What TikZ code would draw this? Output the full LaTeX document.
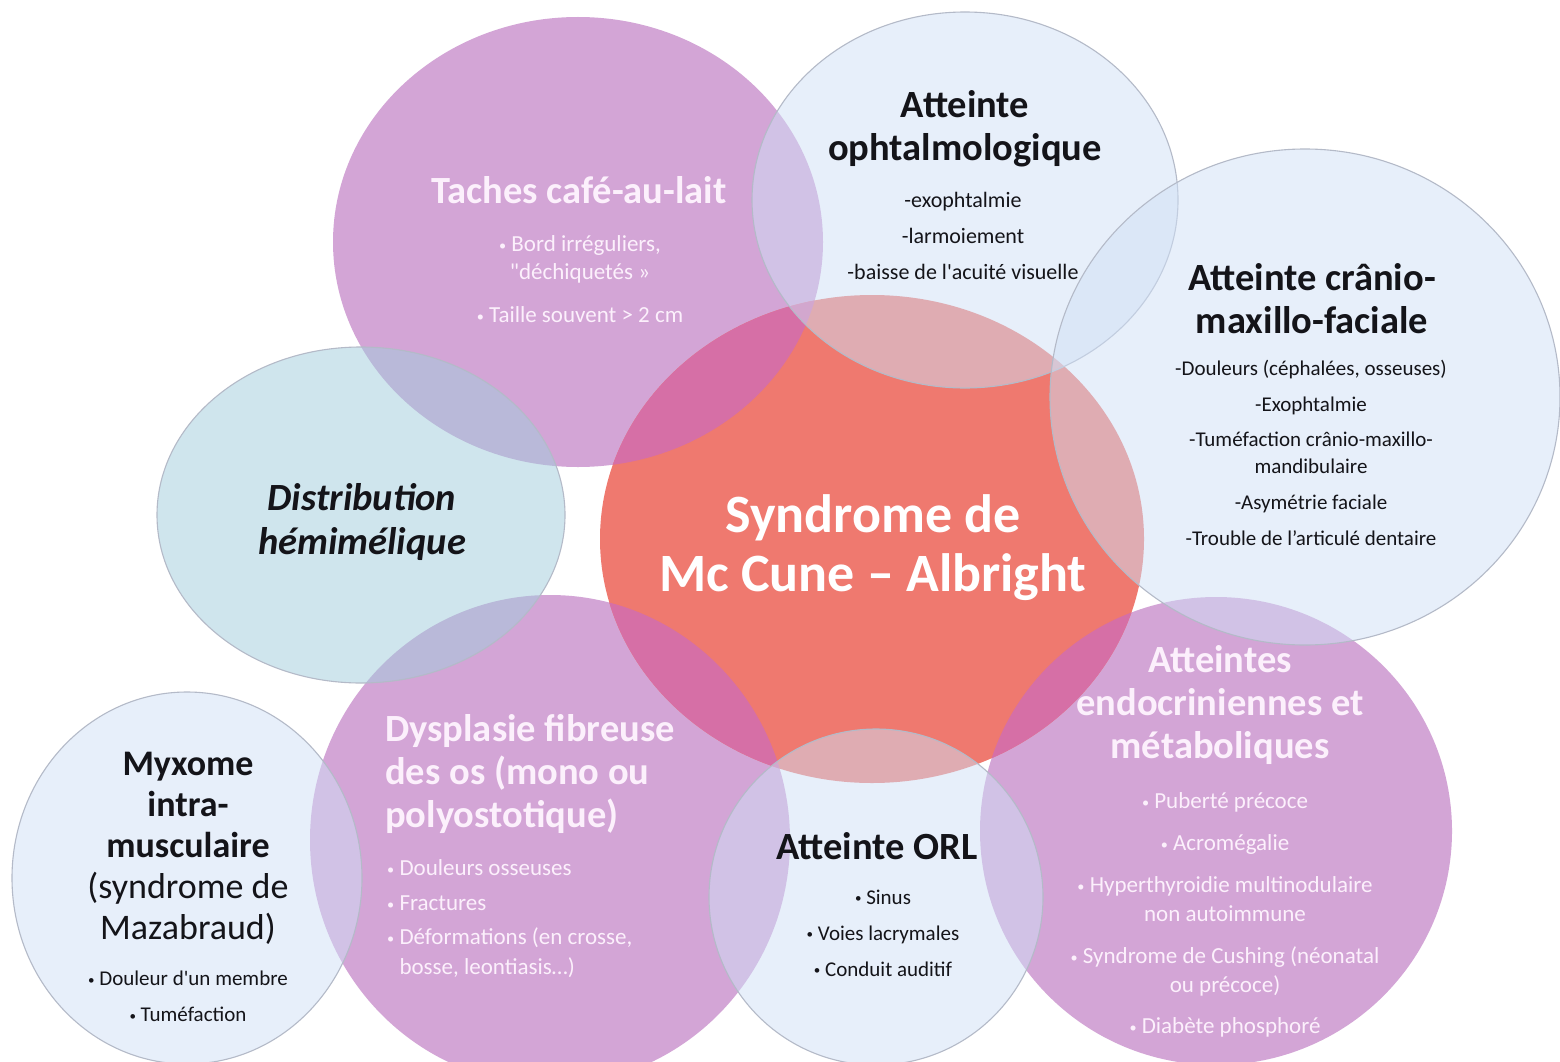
\documentclass[tikz,border=0pt]{standalone}
\usepackage{fontspec}
\setmainfont{Carlito}

\definecolor{mauve}{RGB}{211,165,214}
\definecolor{corail}{RGB}{239,121,111}
\definecolor{mauvecorail}{RGB}{214,111,166}
\definecolor{bleuclair}{RGB}{208,224,246}
\definecolor{bleuvert}{RGB}{160,205,220}
\definecolor{bordgris}{RGB}{180,186,200}
\definecolor{blanclait}{RGB}{252,240,252}
\definecolor{noirtexte}{RGB}{20,20,25}

\newcommand\puce{\raisebox{0.12ex}{\scalebox{0.62}{•}}}

\tikzset{
  cercle clair/.style={fill=#1, fill opacity=0.5, draw=bordgris, line width=1.1pt},
  titre/.style={font=\bfseries\fontsize{38.5}{43}\selectfont, align=center, inner sep=0pt, text=noirtexte},
  titre blanc/.style={titre, text=blanclait},
  liste/.style={font=\fontsize{22}{27}\selectfont, align=center, inner sep=0pt, text=noirtexte},
  liste blanche/.style={liste, text=blanclait},
}

\begin{document}
\begin{tikzpicture}[x=1pt,y=-1pt]
    \useasboundingbox[fill=white] (0,0) rectangle (1560,1062);

    % centres des cercles
    \coordinate (cTaches) at (578,242);
    \coordinate (cOphtalmo) at (965,200);
    \coordinate (cCranio) at (1305,397);
    \coordinate (cDistrib) at (361,515);
    \coordinate (cSyndrome) at (872,539);
    \coordinate (cDysplasie) at (550,840);
    \coordinate (cMyxome) at (187,878);
    \coordinate (cOrl) at (876,897);
    \coordinate (cEndocrine) at (1216,831);

    % cercles mauves
    \fill[mauve] (cTaches) ellipse [x radius=245pt, y radius=225pt];
    \fill[mauve] (cDysplasie) ellipse [x radius=240pt, y radius=245pt];
    \fill[mauve] (cEndocrine) ellipse [x radius=236pt, y radius=234pt];

    % cercle central
    \fill[corail] (cSyndrome) ellipse [x radius=272pt, y radius=244pt];
    \foreach \c/\rx/\ry in {cTaches/245/225, cDysplasie/240/245, cEndocrine/236/234} {
        \begin{scope}
            \clip (cSyndrome) ellipse [x radius=272pt, y radius=244pt];
            \fill[mauvecorail] (\c) ellipse [x radius=\rx pt, y radius=\ry pt];
        \end{scope}
    }

    % cercles clairs
    \path[cercle clair=bleuvert] (cDistrib) ellipse [x radius=204pt, y radius=168pt];
    \path[cercle clair=bleuclair] (cOphtalmo) ellipse [x radius=213pt, y radius=188pt];
    \path[cercle clair=bleuclair] (cCranio) ellipse [x radius=255pt, y radius=248pt];
    \path[cercle clair=bleuclair] (cMyxome) ellipse [x radius=175pt, y radius=186pt];
    \path[cercle clair=bleuclair] (cOrl) ellipse [x radius=167pt, y radius=168pt];

    % textes
    \node[titre blanc] (tTaches) at (579,190) {Taches café-au-lait};
    \node[liste blanche, font=\fontsize{23}{28}\selectfont] (lTaches) at (580,279)
        {\puce{} Bord irréguliers,\\\textquotedbl déchiquetés »\\[15pt]\puce{} Taille souvent > 2 cm};

    \node[titre] (tOphtalmo) at (965,129) {Atteinte\\ophtalmologique};
    \node[liste] (lOphtalmo) at (963,236)
        {-exophtalmie\\[9pt]-larmoiement\\[9pt]-baisse de l\textquotesingle acuité visuelle};

    \node[titre] (tCranio) at (1312,299) {Atteinte crânio-\\maxillo-faciale};
    \node[liste, font=\fontsize{21}{27}\selectfont] (lCranio) at (1311,453)
        {-Douleurs (céphalées, osseuses)\\[9pt]-Exophtalmie\\[8pt]-Tuméfaction crânio-maxillo-\\mandibulaire\\[9pt]-Asymétrie faciale\\[9pt]-Trouble de l’articulé dentaire};

    \node[titre, font=\bfseries\itshape\fontsize{38.5}{44}\selectfont] (tDistrib) at (362,522)
        {Distribution\\hémimélique};

    \node[titre blanc, font=\bfseries\fontsize{54}{59}\selectfont, text=white] (tSyndrome) at (873,548)
        {Syndrome de\\Mc Cune -- Albright};

    \node[titre blanc, align=left, anchor=west] (tDysplasie) at (385,774)
        {Dysplasie fibreuse\\des os (mono ou\\polyostotique)};
    \node[liste blanche, font=\fontsize{23}{30}\selectfont, align=left, anchor=west] (lDysplasie) at (387,919)
        {\puce{} Douleurs osseuses\\[5pt]\puce{} Fractures\\[4pt]\puce{} Déformations (en crosse,\\\phantom{\puce{} }bosse, leontiasis…)};

    \node[titre blanc] (tEndocrine) at (1220,705)
        {Atteintes\\endocriniennes et\\métaboliques};
    \node[liste blanche, font=\fontsize{23}{29}\selectfont] (lEndocrine) at (1225,915)
        {\puce{} Puberté précoce\\[13pt]\puce{} Acromégalie\\[13pt]\puce{} Hyperthyroidie multinodulaire\\non autoimmune\\[13pt]\puce{} Syndrome de Cushing (néonatal\\ou précoce)\\[12pt]\puce{} Diabète phosphoré};

    \node[titre, font=\fontsize{36}{41}\selectfont] (tMyxome) at (188,848)
        {\textbf{Myxome}\\\textbf{intra-}\\\textbf{musculaire}\\(syndrome de\\Mazabraud)};
    \node[liste, font=\fontsize{21}{27}\selectfont] (lMyxome) at (188,996)
        {\puce{} Douleur d\textquotesingle un membre\\[9pt]\puce{} Tuméfaction};

    \node[titre] (tOrl) at (877,846) {Atteinte ORL};
    \node[liste, font=\fontsize{21}{27}\selectfont] (lOrl) at (883,933)
        {\puce{} Sinus\\[9pt]\puce{} Voies lacrymales\\[9pt]\puce{} Conduit auditif};
\end{tikzpicture}
\end{document}
